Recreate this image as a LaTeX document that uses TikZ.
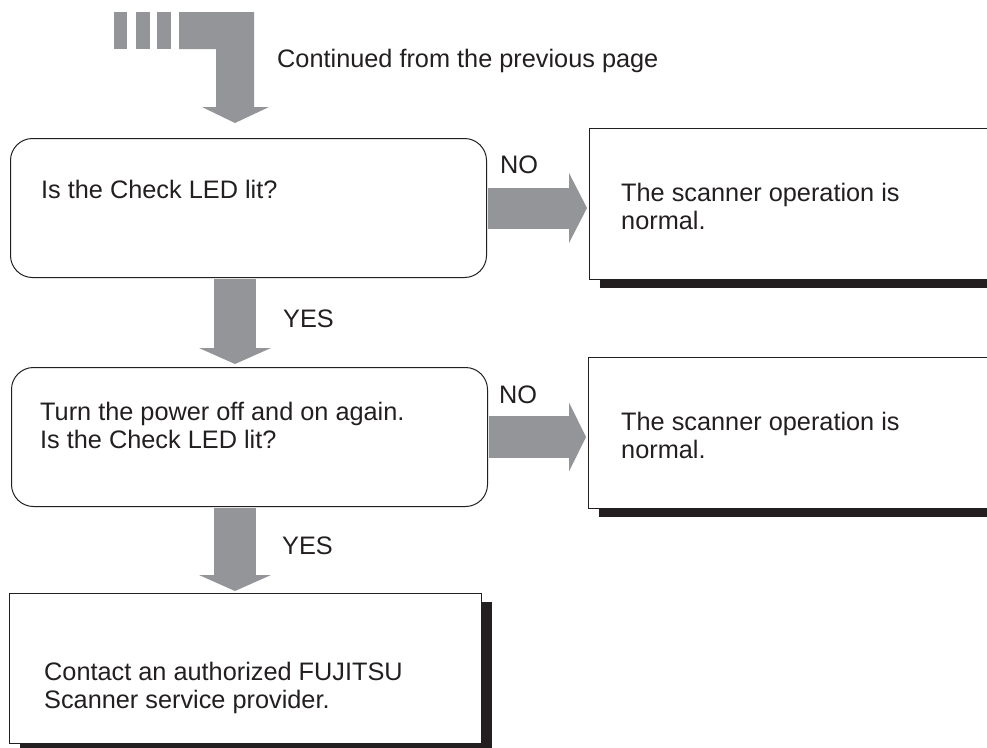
\documentclass[tikz,border=0pt]{standalone}
\usepackage{fontspec}
\setmainfont{Liberation Sans}
\usetikzlibrary{calc,arrows.meta,shadows}
\definecolor{ink}{HTML}{231F20}
\definecolor{arrowgray}{HTML}{939598}
\begin{document}
\begin{tikzpicture}[x=1pt,y=1pt,
  font=\fontsize{25.3}{27.5}\selectfont, text=ink,
  rbox/.style={draw=ink, line width=1pt, rounded corners=22pt, fill=white, anchor=north west, inner sep=0pt},
  sbox/.style={draw=ink, line width=1pt, fill=white, anchor=north west, inner sep=0pt,
    copy shadow={shadow xshift=10pt, shadow yshift=-8pt, fill=ink, draw=none}},
  txt/.style={anchor=base west, inner sep=0pt, align=left},
  fat/.style n args={3}{draw=arrowgray, line width=#1, shorten <=0.5pt,
    -{Triangle[width=#2, length=#3, line width=0pt, fill=arrowgray]}}
]
\useasboundingbox (0,0) rectangle (987,-747);
\clip (0,0) rectangle (987,-747);
\fill[white] (0,0) rectangle (987,-747);

% continuation icon
\fill[arrowgray] (114,-12) rectangle (127,-49);
\fill[arrowgray] (136,-12) rectangle (150,-49);
\fill[arrowgray] (157,-12) rectangle (171,-49);
\fill[arrowgray] (179,-12) -- (254,-12) -- (254,-107) -- (269,-107) -- (235,-123)
  -- (202,-107) -- (216,-107) -- (216,-49) -- (179,-49) -- cycle;
\node[txt] (cont) at (277,-67) {Continued from the previous page};

% boxes (multi-line texts are placed by the baseline of their last line)
\node[rbox, minimum width=476pt, minimum height=139pt] (q1) at (10,-138) {};
\node[txt] (q1t) at (41,-198) {Is the Check LED lit?};
\node[sbox, minimum width=420pt, minimum height=151pt] (r1) at (589,-128) {};
\node[txt] (r1t) at (621,-229) {The scanner operation is\\normal.};

\node[rbox, minimum width=476pt, minimum height=139pt] (q2) at (11,-367) {};
\node[txt] (q2t) at (40,-448) {Turn the power off and on again.\\Is the Check LED lit?};
\node[sbox, minimum width=420pt, minimum height=151pt] (r2) at (588,-357) {};
\node[txt] (r2t) at (621,-458) {The scanner operation is\\normal.};

\node[sbox, minimum width=472pt, minimum height=150pt] (end) at (9,-593) {};
\node[txt] (endt) at (44,-708) {Contact an authorized FUJITSU\\Scanner service provider.};

% labels
\node[txt] (no1) at (500,-173) {NO};
\node[txt] (no2) at (499,-403) {NO};
\node[txt] (yes1) at (283,-327) {YES};
\node[txt] (yes2) at (282,-554) {YES};

% arrows
\draw[fat={42pt}{72pt}{16pt}, shorten >=3pt] ([xshift=225pt]q1.south west) -- ([xshift=224pt]q2.north west);
\draw[fat={42pt}{72pt}{16pt}, shorten >=2pt] ([xshift=224pt]q2.south west) -- ([xshift=226pt]end.north west);
\draw[fat={41pt}{70pt}{18pt}, shorten >=2pt] (q1.east) -- (q1.east -| r1.west);
\draw[fat={42pt}{69pt}{17pt}, shorten >=2pt] (q2.east) -- (q2.east -| r2.west);
\end{tikzpicture}
\end{document}
